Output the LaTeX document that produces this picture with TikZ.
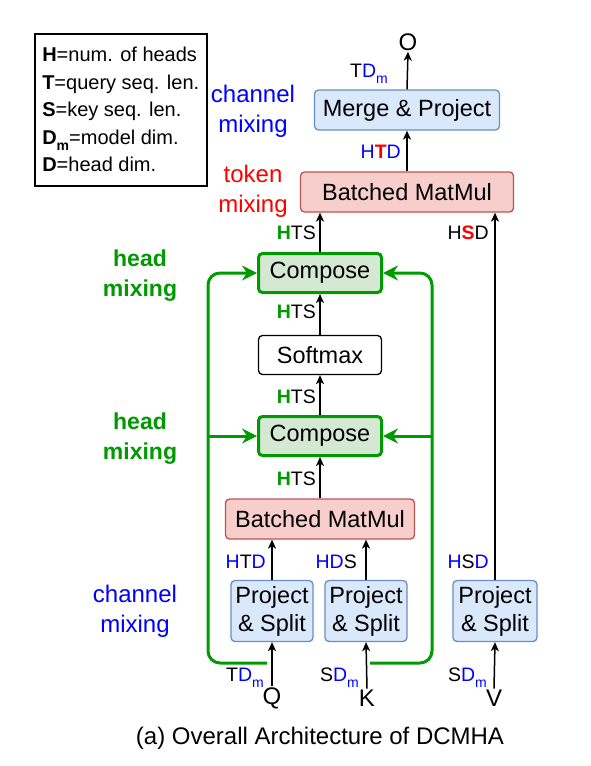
\documentclass[tikz,border=0pt]{standalone}
\usepackage{fontspec}
\setmainfont{Liberation Sans}
\usetikzlibrary{arrows.meta}
\definecolor{projfill}{HTML}{DAE8FC}
\definecolor{projline}{HTML}{6C8EBF}
\definecolor{mulfill}{HTML}{F8CECC}
\definecolor{mulline}{HTML}{B85450}
\definecolor{compfill}{HTML}{D5E8D4}
\definecolor{headgreen}{HTML}{009900}
\definecolor{chanblue}{HTML}{0000FF}
\definecolor{tokred}{HTML}{FF0000}
\newcommand{\subm}{\raisebox{-0.32em}{\fontsize{14}{14}\selectfont m}}
\newcommand{\Hg}{\textcolor{headgreen}{\textbf{H}}}
\newcommand{\Dm}{\textcolor{chanblue}{D\subm}}

\begin{document}
\begin{tikzpicture}[x=1pt,y=-1pt,
    opbox/.style={draw, rounded corners=4, line width=1.3, inner sep=0, align=center,
      font=\fontsize{23.5}{28}\selectfont},
    projbox/.style={opbox, fill=projfill, draw=projline},
    mulbox/.style={opbox, fill=mulfill, draw=mulline, minimum height=40},
    compbox/.style={opbox, fill=compfill, draw=headgreen, line width=3,
      minimum width=123, minimum height=39},
    dimlbl/.style={font=\fontsize{19.5}{22}\selectfont, inner sep=0},
    mixlbl/.style={font=\fontsize{24}{30}\selectfont, align=center, inner sep=0},
    letter/.style={font=\fontsize{24}{28}\selectfont, inner sep=1},
    arr/.style={line width=1.5, -{Stealth[length=9, width=8, inset=2.5]}},
    headln/.style={draw=headgreen, line width=3, rounded corners=12},
    headarr/.style={headln, -{Stealth[length=15, width=15, inset=5]}}]
\useasboundingbox (0,0) rectangle (590,766);

% legend
\node[draw, line width=1.5, anchor=north west, minimum width=172, minimum height=152,
  align=left, inner sep=0, font=\fontsize{20}{27.5}\selectfont] (legend) at (34,33)
  {\textbf{H}=num. of heads\\ \textbf{T}=query seq. len.\\ \textbf{S}=key seq. len.\\
   \textbf{D}{\bfseries\subm}=model dim.\\ \textbf{D}=head dim.};

% inputs and output
\node[letter] (outO) at (408,42) {O};
\foreach \nm/\tx/\xx in {inQ/Q/272, inK/K/367, inV/V/494}
  \node[letter] (\nm) at (\xx,698) {\tx};

% operation boxes
\node[projbox, minimum width=185, minimum height=40] (merge) at (407,110) {Merge \& Project};
\node[mulbox, minimum width=213] (av) at (407,192) {Batched MatMul};
\node[compbox] (compB) at (320,273) {Compose};
\node[opbox, minimum width=123, minimum height=39] (softmax) at (320,355) {Softmax};
\node[compbox] (compA) at (320,436) {Compose};
\node[mulbox, minimum width=189] (qk) at (320,519) {Batched MatMul};
\foreach \nm/\xx/\ww in {projQ/272/82, projK/366/82, projV/495/84}
  \node[projbox, minimum width=\ww, minimum height=61] (\nm) at (\xx,611) {Project\\\& Split};

% data flow
\foreach \a/\b in {inQ/projQ, inK/projK, inV/projV, qk/compA, compA/softmax, softmax/compB, av/merge, merge/outO}
  \draw[arr] (\a.north) -- (\b.south);
\draw[arr] (projQ.north) -- (projQ.north |- qk.south);
\draw[arr] (projK.north) -- (projK.north |- qk.south);
\draw[arr] (compB.north) -- (compB.north |- av.south);
\draw[arr] (projV.north) -- (projV.north |- av.south);

% head mixing paths
\coordinate (qtap) at (267,663);
\coordinate (ktap) at (370,663);
\coordinate (lrail) at (208,663);
\coordinate (rrail) at (432,663);
\draw[headarr] (qtap) -- (lrail) -- (lrail |- compB.west) -- (compB.west);
\draw[headarr] (ktap) -- (rrail) -- (rrail |- compB.east) -- (compB.east);
\draw[headarr] (lrail |- compA.west) -- (compA.west);
\draw[headarr] (rrail |- compA.east) -- (compA.east);

% shape labels
\node[dimlbl, anchor=base east] (lblOut) at (388,77) {T\Dm};
\node[dimlbl, anchor=base east] (lblMerge) at (401,158)
  {\textcolor{chanblue}{H}\textcolor{tokred}{\textbf{T}}\textcolor{chanblue}{D}};
\node[dimlbl, anchor=base east] (lblAvL) at (316,239) {\Hg TS};
\node[dimlbl, anchor=base east] (lblAvR) at (489,239) {H\textcolor{tokred}{\textbf{S}}D};
\node[dimlbl, anchor=base east] (lblSoft) at (316,318) {\Hg TS};
\node[dimlbl, anchor=base east] (lblCompA) at (316,403) {\Hg TS};
\node[dimlbl, anchor=base east] (lblQk) at (316,485) {\Hg TS};
\node[dimlbl, anchor=base east] (lblQ) at (266,568)
  {\textcolor{chanblue}{H}T\textcolor{chanblue}{D}};
\node[dimlbl, anchor=base east] (lblK) at (357,568) {\textcolor{chanblue}{HD}S};
\node[dimlbl, anchor=base east] (lblV) at (489,568)
  {\textcolor{chanblue}{H}S\textcolor{chanblue}{D}};
\node[dimlbl, anchor=base east] (lblinQ) at (264,681) {T\Dm};
\node[dimlbl, anchor=base east] (lblinK) at (359,681) {S\Dm};
\node[dimlbl, anchor=base east] (lblinV) at (487,681) {S\Dm};

% mixing notes
\node[mixlbl, text=chanblue] (chanTop) at (253,111) {channel\\mixing};
\node[mixlbl, text=tokred] (tokMix) at (253,191) {token\\mixing};
\node[mixlbl, text=headgreen, font=\fontsize{23}{30}\selectfont\bfseries] (headTop) at (140,276) {head\\mixing};
\node[mixlbl, text=headgreen, font=\fontsize{23}{30}\selectfont\bfseries] (headBot) at (140,439) {head\\mixing};
\node[mixlbl, text=chanblue] (chanBot) at (135,611) {channel\\mixing};

\node[font=\fontsize{24}{28}\selectfont] (caption) at (320,738) {(a) Overall Architecture of DCMHA};
\end{tikzpicture}
\end{document}
